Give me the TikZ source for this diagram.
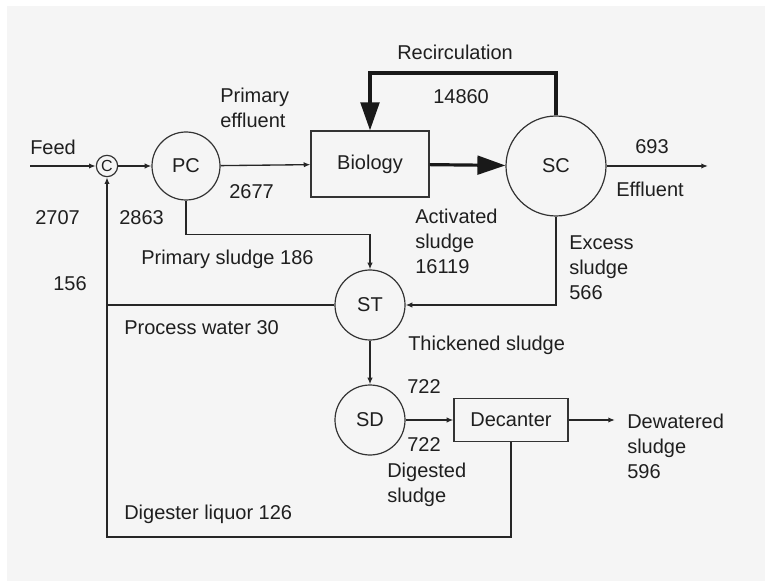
\documentclass[tikz,border=0pt]{standalone}
\usepackage{fontspec}
\setmainfont{Liberation Sans}
\usetikzlibrary{arrows.meta}

\begin{document}
\begin{tikzpicture}[x=0.75pt,y=-0.75pt,
	every node/.style={font=\fontsize{15}{18.75}\selectfont, text=black!88},
	unit/.style={draw=black!80, line width=0.9pt, circle, inner sep=0},
	tank/.style={draw=black!80, line width=0.9pt, rectangle, inner sep=0},
	lbl/.style={anchor=west, inner sep=0, align=left},
	flow/.style={draw=black!85, line width=1pt, -{Latex[length=5pt,width=4pt]}},
	pipe/.style={draw=black!85, line width=1pt},
	bigflow/.style={draw=black!90, line width=2.4pt, -{Triangle[length=21pt,width=14pt]}}]
%
	\useasboundingbox (0,0) rectangle (765,581);
	\fill[black!4] (7,6) rectangle (765,581);
%
	\node[unit, minimum size=16pt, font=\fontsize{12}{14}\selectfont] (C) at (107,166) {C};
	\node[unit, minimum size=51pt] (PC) at (186,166) {PC};
	\node[tank, minimum width=88.5pt, minimum height=49.5pt] (bio) at (370,164) {Biology};
	\node[unit, minimum size=75pt] (SC) at (556,166) {SC};
	\node[unit, minimum size=52.5pt] (ST) at (370,305) {ST};
	\node[unit, minimum size=52.5pt] (SD) at (370,420) {SD};
	\node[tank, minimum width=85.5pt, minimum height=32.25pt] (dec) at (511,420) {Decanter};
%
	\coordinate (feed) at (30,166);
	\coordinate (eff) at (708,166);
	\coordinate (dew) at (615,420);
	\coordinate (rtop) at (556,73);
	\coordinate (liq) at (107,537);
%
	\draw[flow, line width=1.4pt] (feed) -- (C);
	\draw[flow] (C) -- (PC);
	\draw[flow] (PC) -- (bio);
	\draw[bigflow] (bio) -- (SC);
	\draw[bigflow] (SC.north) -- (rtop) -| (bio.north);
	\draw[flow] (SC) -- (eff);
	\draw[flow] (PC.south) -- ++(0,34) -| (ST.north);
	\draw[flow] (SC.south) |- (ST.east);
	\draw[pipe] (ST.west) -- (ST.west -| C);
	\draw[flow] (ST) -- (SD);
	\draw[flow] (SD) -- (dec);
	\draw[flow] (dec) -- (dew);
	\draw[flow] (dec.south) |- (liq) -- (C.south);
%
	\node[lbl] (lfeed) at (30,147) {Feed};
	\node[lbl] (l2707) at (35,218) {2707};
	\node[lbl] (l2863) at (119,218) {2863};
	\node[lbl] (l156) at (53,284) {156};
	\node[lbl] (lprim) at (220,108) {Primary\\effluent};
	\node[lbl] (l2677) at (229,192) {2677};
	\node[lbl] (lpsl) at (141,259) {Primary sludge 186};
	\node[lbl] (lrec) at (397,52) {Recirculation};
	\node[lbl] (l14860) at (433,97) {14860};
	\node[lbl] (l693) at (635,147) {693};
	\node[lbl] (leff) at (616,189) {Effluent};
	\node[lbl] (lact) at (415,241) {Activated\\sludge\\16119};
	\node[lbl] (lexc) at (569,268) {Excess\\sludge\\566};
	\node[lbl] (lpw) at (124,328) {Process water 30};
	\node[lbl] (lthk) at (408,345) {Thickened sludge};
	\node[lbl] (l722a) at (407,387) {722};
	\node[lbl] (l722b) at (407,445) {722};
	\node[lbl] (ldig) at (387,485) {Digested\\sludge};
	\node[lbl] (ldew) at (627,446) {Dewatered\\sludge\\596};
	\node[lbl] (lliq) at (124,514) {Digester liquor 126};
\end{tikzpicture}
\end{document}
